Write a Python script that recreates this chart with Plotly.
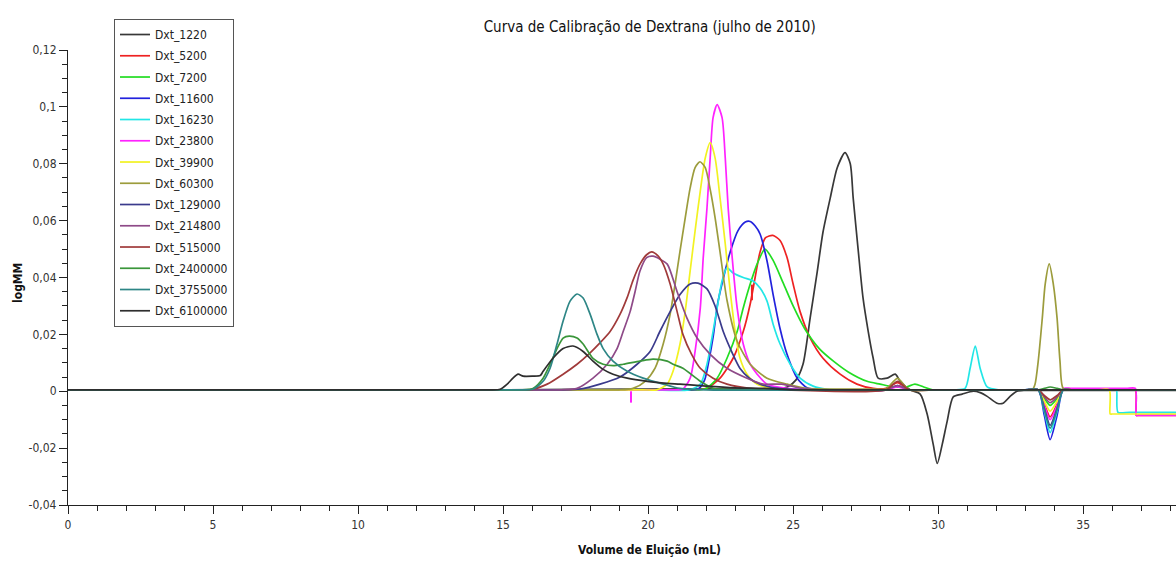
import plotly.graph_objects as go

# Dextran calibration chromatograms: elution volume (mL) vs detector signal
x_1220 = [0, 5, 10, 15, 20, 23.5, 24.0, 24.5, 24.8, 25.1, 25.34, 25.59, 25.83, 26.03, 26.28, 26.52, 26.79,
          26.97, 27.07, 27.24, 27.41, 27.59, 27.76, 27.93, 28.24, 28.52, 28.69, 29.03, 29.38, 29.62, 29.83,
          29.97, 30.14, 30.31, 30.52, 30.83, 31.21, 31.45, 31.69, 32.03, 32.24, 32.48, 32.72, 33.0, 34.0,
          36.0, 38.2]
y_1220 = [0.0005, 0.0005, 0.0005, 0.0005, 0.0008, 0.0008, 0.0008, 0.0010, 0.0015, 0.004, 0.0095, 0.026,
          0.042, 0.056, 0.068, 0.0786, 0.0839, 0.080, 0.068, 0.050, 0.0328, 0.021, 0.0116, 0.0046, 0.0046,
          0.006, 0.0035, 0.0005, -0.001, -0.008, -0.0187, -0.0254, -0.0187, -0.0106, -0.002, -0.001, 0.0,
          -0.0005, -0.0018, -0.0042, -0.0042, -0.0018, 0.0, 0.0003, 0.0003, 0.0003, 0.0003]

x_5200 = [0, 5, 10, 15, 20, 21.5, 22.0, 22.48, 22.93, 23.28, 23.52, 23.69, 23.86, 24.05, 24.3, 24.55, 24.79,
          25.0, 25.24, 25.59, 26.03, 26.62, 27.2, 27.76, 28.2, 28.6, 29.0, 29.5, 31.0, 33.0, 33.45, 33.66,
          33.86, 34.1, 34.31, 34.6, 36.0, 36.5, 36.8, 36.83, 36.9, 37.5, 38.2]
y_5200 = [0.0005, 0.0005, 0.0005, 0.0005, 0.0005, 0.0005, 0.001, 0.0046, 0.0116, 0.021, 0.0307, 0.040,
          0.049, 0.054, 0.0548, 0.053, 0.047, 0.0377, 0.028, 0.0187, 0.0116, 0.006, 0.0025, 0.001, 0.001,
          0.003, 0.0005, 0.0005, 0.0005, 0.0005, 0.0005, -0.0045, -0.009, -0.0045, 0.0005, 0.0005, 0.0005,
          0.0005, 0.0005, -0.0085, -0.0085, -0.0085, -0.0085]
x_5200_spike = [23.58, 23.58]
y_5200_spike = [0.0375, 0.032]

x_7200 = [0, 5, 10, 15, 20, 21.5, 22.0, 22.38, 22.72, 23.07, 23.28, 23.52, 23.76, 24.03, 24.31, 24.66, 25.0,
          25.4, 25.9, 26.4, 26.9, 27.55, 28.0, 28.5, 28.9, 29.2, 29.5, 29.8, 30.5, 33.0, 33.45, 33.66, 33.86,
          34.1, 34.31, 34.6, 36.0, 38.2]
y_7200 = [0.0005, 0.0005, 0.0005, 0.0005, 0.0005, 0.0005, 0.001, 0.0046, 0.0116, 0.021, 0.0293, 0.0377,
          0.0448, 0.050, 0.046, 0.038, 0.030, 0.022, 0.015, 0.0105, 0.0068, 0.0035, 0.0025, 0.0015, 0.0015,
          0.0025, 0.0015, 0.0005, 0.0005, 0.0005, 0.0005, -0.0025, -0.005, -0.0025, 0.0005, 0.0005, 0.0005,
          0.0005]

x_11600 = [0, 5, 10, 15, 20, 21.4, 21.75, 21.95, 22.1, 22.24, 22.4, 22.6, 22.83, 23.1, 23.35, 23.52, 23.7,
           23.86, 24.1, 24.31, 24.55, 24.79, 25.14, 25.48, 25.9, 28.2, 28.6, 29.0, 30.0, 33.0, 33.45, 33.66,
           33.86, 34.1, 34.31, 34.6, 36.0, 38.2]
y_11600 = [0.0005, 0.0005, 0.0005, 0.0005, 0.0005, 0.0005, 0.001, 0.004, 0.011, 0.019, 0.031, 0.040, 0.049,
           0.0565, 0.0595, 0.0597, 0.058, 0.0553, 0.0458, 0.034, 0.022, 0.013, 0.0046, 0.0012, 0.0005,
           0.0005, 0.002, 0.0005, 0.0005, 0.0005, 0.0005, -0.0085, -0.017, -0.0085, 0.0005, 0.0005, 0.0005,
           0.0005]

x_16230 = [0, 5, 10, 15, 20, 21.4, 21.8, 22.03, 22.2, 22.38, 22.55, 22.72, 22.93, 23.28, 23.62, 23.86, 24.1,
           24.31, 24.55, 24.9, 25.24, 25.69, 26.17, 26.8, 30.5, 30.93, 31.1, 31.28, 31.45, 31.69, 32.1, 33.0,
           33.45, 33.66, 33.86, 34.1, 34.31, 34.6, 35.5, 36.1, 36.15, 36.2, 36.6, 38.2]
y_16230 = [0.0005, 0.0005, 0.0005, 0.0005, 0.0005, 0.0005, 0.0025, 0.0095, 0.0187, 0.0293, 0.0388, 0.0434,
           0.0416, 0.040, 0.0388, 0.0363, 0.0317, 0.0236, 0.0166, 0.0095, 0.0046, 0.0018, 0.0007, 0.0005,
           0.0005, 0.001, 0.008, 0.0159, 0.008, 0.0015, 0.0005, 0.0005, 0.0005, -0.007, -0.0145, -0.007,
           0.0005, 0.0005, 0.0005, 0.0005, 0.0005, -0.0074, -0.0074, -0.0074]

x_23800 = [0, 5, 10, 15, 19.0, 20.8, 21.2, 21.45, 21.62, 21.8, 21.9, 22.03, 22.14, 22.24, 22.38, 22.55, 22.66,
           22.76, 22.9, 23.07, 23.28, 23.52, 23.76, 24.1, 24.8, 25.5, 28.2, 28.6, 29.0, 30.0, 33.0, 33.45,
           33.66, 33.86, 34.1, 34.31, 34.6, 36.0, 36.5, 36.8, 36.83, 36.9, 37.5, 38.2]
y_23800 = [0.0005, 0.0005, 0.0005, 0.0005, 0.0005, 0.0005, 0.0008, 0.0046, 0.014, 0.0293, 0.0469, 0.0645,
           0.0821, 0.0962, 0.1008, 0.0962, 0.082, 0.0645, 0.0469, 0.0293, 0.0166, 0.0095, 0.006, 0.0025,
           0.001, 0.0005, 0.0005, 0.0015, 0.0005, 0.0005, 0.0005, 0.0005, -0.005, -0.010, -0.005, 0.001,
           0.001, 0.001, 0.001, 0.001, -0.0085, -0.0085, -0.0085, -0.0085]
x_23800_spike = [19.41, 19.41]
y_23800_spike = [0.0, -0.004]

x_39900 = [0, 5, 10, 15, 19.8, 20.3, 20.66, 20.86, 21.1, 21.28, 21.45, 21.62, 21.8, 21.97, 22.14, 22.31, 22.48,
           22.66, 22.83, 23.0, 23.17, 23.41, 23.76, 24.3, 25.0, 30.0, 33.0, 33.45, 33.66, 33.86, 34.1, 34.31,
           34.6, 35.5, 35.9, 35.93, 36.0, 36.5, 38.2]
y_39900 = [0.0005, 0.0005, 0.0005, 0.0005, 0.0005, 0.0005, 0.0025, 0.007, 0.0166, 0.0282, 0.0423, 0.0564,
           0.0705, 0.082, 0.0874, 0.082, 0.068, 0.0518, 0.0352, 0.0211, 0.0116, 0.006, 0.0025, 0.001, 0.0005,
           0.0005, 0.0005, 0.0005, -0.0035, -0.007, -0.0035, 0.0005, 0.0005, 0.0005, 0.0005, -0.008, -0.008,
           -0.008, -0.008]

x_60300 = [0, 5, 10, 15, 18.5, 19.0, 19.48, 19.9, 20.24, 20.52, 20.76, 20.93, 21.1, 21.28, 21.45, 21.62, 21.79,
           21.97, 22.14, 22.31, 22.48, 22.72, 23.07, 23.52, 24.1, 24.8, 25.5, 27.8, 28.2, 28.6, 29.0, 30.0,
           32.9, 33.24, 33.34, 33.45, 33.59, 33.69, 33.83, 33.97, 34.1, 34.2, 34.31, 34.6, 36.0, 38.2]
y_60300 = [0.0005, 0.0005, 0.0005, 0.0005, 0.0005, 0.0005, 0.001, 0.0035, 0.0081, 0.0166, 0.0271, 0.0377,
           0.0493, 0.061, 0.0715, 0.0786, 0.0807, 0.0786, 0.071, 0.061, 0.049, 0.032, 0.0176, 0.0095, 0.0046,
           0.0025, 0.001, 0.0008, 0.0008, 0.0045, 0.0005, 0.0005, 0.0005, 0.0005, 0.0025, 0.0106, 0.0257,
           0.0377, 0.0448, 0.0377, 0.0257, 0.0106, 0.001, 0.0005, 0.0005, 0.0005]

x_129000 = [0, 5, 10, 15, 16.5, 17.0, 17.66, 18.34, 19.03, 19.62, 20.07, 20.41, 20.76, 21.1, 21.45, 21.72,
            22.03, 22.31, 22.59, 22.9, 23.17, 23.5, 23.86, 24.5, 25.5, 30.0, 33.0, 33.45, 33.66, 33.86, 34.1,
            34.31, 34.6, 36.0, 38.2]
y_129000 = [0.0005, 0.0005, 0.0005, 0.0005, 0.0005, 0.0005, 0.0008, 0.0025, 0.005, 0.0095, 0.014, 0.0211,
            0.028, 0.034, 0.0377, 0.038, 0.036, 0.030, 0.021, 0.0135, 0.008, 0.0045, 0.0025, 0.001, 0.0005,
            0.0005, 0.0005, 0.0005, -0.006, -0.012, -0.006, 0.0005, 0.0005, 0.0005, 0.0005]

x_214800 = [0, 5, 10, 15, 17.0, 17.55, 18.1, 18.59, 18.93, 19.14, 19.38, 19.55, 19.72, 19.95, 20.17, 20.4,
            20.66, 21.0, 21.34, 21.69, 22.14, 22.72, 23.41, 23.97, 24.6, 25.3, 25.9, 28.2, 28.6, 29.0, 30.0,
            33.0, 33.45, 33.66, 33.86, 34.1, 34.31, 34.6, 36.0, 38.2]
y_214800 = [0.0005, 0.0005, 0.0005, 0.0005, 0.0005, 0.001, 0.0046, 0.0095, 0.015, 0.021, 0.028, 0.035, 0.0423,
            0.047, 0.0475, 0.0465, 0.0447, 0.035, 0.0257, 0.0187, 0.013, 0.0081, 0.0046, 0.0025, 0.0025,
            0.001, 0.0005, 0.0005, 0.002, 0.0005, 0.0005, 0.0005, 0.0005, -0.002, -0.004, -0.002, 0.0005,
            0.0005, 0.0005, 0.0005]

x_515000 = [0, 5, 10, 15, 15.5, 15.93, 16.52, 17.07, 17.55, 18.0, 18.34, 18.69, 19.03, 19.28, 19.48, 19.72,
            19.95, 20.12, 20.35, 20.52, 20.76, 21.0, 21.2, 21.5, 21.8, 22.24, 22.72, 23.5, 24.5, 28.2, 28.6,
            29.0, 30.0, 33.0, 33.45, 33.66, 33.86, 34.1, 34.31, 34.6, 36.0, 38.2]
y_515000 = [0.0005, 0.0005, 0.0005, 0.0005, 0.0005, 0.0005, 0.0025, 0.006, 0.0095, 0.0135, 0.017, 0.021,
            0.027, 0.033, 0.039, 0.0447, 0.048, 0.049, 0.0475, 0.0447, 0.0377, 0.028, 0.020, 0.013, 0.0081,
            0.0046, 0.0025, 0.001, 0.0005, 0.0005, 0.0035, 0.0005, 0.0005, 0.0005, 0.0005, -0.0015, -0.003,
            -0.0015, 0.0005, 0.0005, 0.0005, 0.0005]

x_2400000 = [0, 5, 10, 15, 15.6, 16.03, 16.38, 16.62, 16.86, 17.07, 17.28, 17.55, 17.76, 18.1, 18.45, 18.8,
             19.14, 19.72, 20.17, 20.66, 20.86, 21.2, 21.8, 22.24, 23.0, 30.0, 33.0, 33.45, 33.66, 33.86, 34.1,
             34.31, 34.6, 36.0, 38.2]
y_2400000 = [0.0005, 0.0005, 0.0005, 0.0005, 0.0005, 0.001, 0.0046, 0.0095, 0.015, 0.0187, 0.0194, 0.0187,
             0.0166, 0.0116, 0.0095, 0.009, 0.0095, 0.0106, 0.0113, 0.0106, 0.0095, 0.0081, 0.0035, 0.001,
             0.0005, 0.0005, 0.0005, 0.0005, 0.001, 0.0015, 0.001, 0.0005, 0.0005, 0.0005, 0.0005]

x_3755000 = [0, 5, 10, 15, 15.6, 16.03, 16.38, 16.62, 16.86, 17.07, 17.31, 17.55, 17.76, 18.0, 18.24, 18.45,
             18.79, 19.28, 19.83, 20.52, 21.1, 22.0, 30.0, 33.0, 33.45, 33.66, 33.86, 34.1, 34.31, 34.6, 36.0,
             38.2]
y_3755000 = [0.0005, 0.0005, 0.0005, 0.0005, 0.0005, 0.0007, 0.0035, 0.0081, 0.0166, 0.0247, 0.0317, 0.0342,
             0.0328, 0.0271, 0.020, 0.015, 0.0106, 0.007, 0.0046, 0.0025, 0.001, 0.0005, 0.0005, 0.0005,
             0.0005, -0.0065, -0.013, -0.0065, 0.0005, 0.0005, 0.0005, 0.0005]

x_6100000 = [0, 5, 10, 14.5, 14.9, 15.14, 15.34, 15.52, 15.69, 16.03, 16.28, 16.38, 16.72, 17.07, 17.41,
             17.76, 18.1, 18.45, 18.79, 19.28, 19.97, 20.66, 21.1, 22.0, 23.0, 24.0, 25.0, 26.0, 30.0, 34.0,
             38.2]
y_6100000 = [0.0005, 0.0005, 0.0005, 0.0005, 0.0007, 0.0025, 0.0046, 0.006, 0.0053, 0.0053, 0.0055, 0.007,
             0.0116, 0.015, 0.0159, 0.014, 0.0106, 0.0077, 0.006, 0.0046, 0.0035, 0.0028, 0.0025, 0.0018,
             0.0012, 0.001, 0.0005, 0.0005, 0.0005, 0.0005, 0.0005]

series = [
    ("Dxt_1220", x_1220, y_1220, "#383838"),
    ("Dxt_5200", x_5200, y_5200, "#ee2222"),
    ("Dxt_7200", x_7200, y_7200, "#22dd22"),
    ("Dxt_11600", x_11600, y_11600, "#2222dd"),
    ("Dxt_16230", x_16230, y_16230, "#22e6e6"),
    ("Dxt_23800", x_23800, y_23800, "#ff22ff"),
    ("Dxt_39900", x_39900, y_39900, "#f2f222"),
    ("Dxt_60300", x_60300, y_60300, "#9c9c3c"),
    ("Dxt_129000", x_129000, y_129000, "#3a3a8c"),
    ("Dxt_214800", x_214800, y_214800, "#8e4a88"),
    ("Dxt_515000", x_515000, y_515000, "#a03a3a"),
    ("Dxt_2400000", x_2400000, y_2400000, "#3a963a"),
    ("Dxt_3755000", x_3755000, y_3755000, "#2e8686"),
    ("Dxt_6100000", x_6100000, y_6100000, "#2e2e2e"),
]
spikes = {
    "Dxt_5200": (x_5200_spike, y_5200_spike),
    "Dxt_23800": (x_23800_spike, y_23800_spike),
}

y_tickvals = [-0.04, -0.02, 0, 0.02, 0.04, 0.06, 0.08, 0.1, 0.12]
y_ticktext = ["-0,04", "-0,02", "0", "0,02", "0,04", "0,06", "0,08", "0,1", "0,12"]
x_tickvals = [0, 5, 10, 15, 20, 25, 30, 35]

FONT = "DejaVu Sans Condensed, DejaVu Sans, sans-serif"

fig = go.Figure()
for name, xs, ys, color in series:
    fig.add_trace(go.Scatter(
        x=xs, y=ys, name=name, mode="lines", legendgroup=name,
        line=dict(color=color, width=1.7, shape="spline", smoothing=0.7),
        hoverinfo="skip",
    ))
    if name in spikes:
        sx, sy = spikes[name]
        fig.add_trace(go.Scatter(
            x=sx, y=sy, mode="lines", legendgroup=name, showlegend=False,
            line=dict(color=color, width=2), hoverinfo="skip",
        ))

fig.update_layout(
    width=1176, height=561,
    margin=dict(l=68, r=0, t=50, b=56),
    paper_bgcolor="white", plot_bgcolor="white",
    font=dict(family=FONT, size=12, color="#222222"),
    title=dict(text="Curva de Calibração de Dextrana (julho de 2010)",
               x=0.525, xref="paper", xanchor="center",
               y=0.952, yref="container", yanchor="middle",
               font=dict(family=FONT, size=15, color="#111111")),
    showlegend=True,
    legend=dict(
        x=0.0415, y=1.0681, xref="paper", yref="paper", xanchor="left", yanchor="top",
        bgcolor="white", bordercolor="#555555", borderwidth=1,
        font=dict(family=FONT, size=12, color="#222222"),
        traceorder="grouped", tracegroupgap=2.25, itemwidth=30, maxheight=400,
    ),
    annotations=[
        dict(text="<b>Volume de Eluição (mL)</b>", xref="paper", yref="paper",
             x=0.5244, y=-0.099, xanchor="center", yanchor="middle", showarrow=False,
             font=dict(family=FONT, size=12, color="#111111")),
        dict(text="<b>logMM</b>", xref="paper", yref="paper", textangle=-90,
             x=-0.0451, y=0.488, xanchor="center", yanchor="middle", showarrow=False,
             font=dict(family=FONT, size=12, color="#111111")),
    ],
)

fig.update_xaxes(
    range=[0, 38.2], showgrid=False, zeroline=False,
    showline=True, linecolor="#222222", linewidth=1.2,
    tickmode="array", tickvals=x_tickvals,
    ticks="outside", ticklen=8, tickcolor="#222222", tickwidth=1,
    minor=dict(dtick=1, ticks="outside", ticklen=5, tickcolor="#222222", tickwidth=1, showgrid=False),
    tickfont=dict(family=FONT, size=12, color="#333333"),
)
fig.update_yaxes(
    range=[-0.04, 0.12], showgrid=False, zeroline=False,
    showline=True, linecolor="#222222", linewidth=1.2,
    tickmode="array", tickvals=y_tickvals, ticktext=y_ticktext,
    ticks="outside", ticklen=8, tickcolor="#222222", tickwidth=1,
    minor=dict(dtick=0.005, tick0=0, ticks="outside", ticklen=5, tickcolor="#222222", tickwidth=1,
               showgrid=False),
    tickfont=dict(family=FONT, size=12, color="#333333"),
)

fig.write_html("out.html")
